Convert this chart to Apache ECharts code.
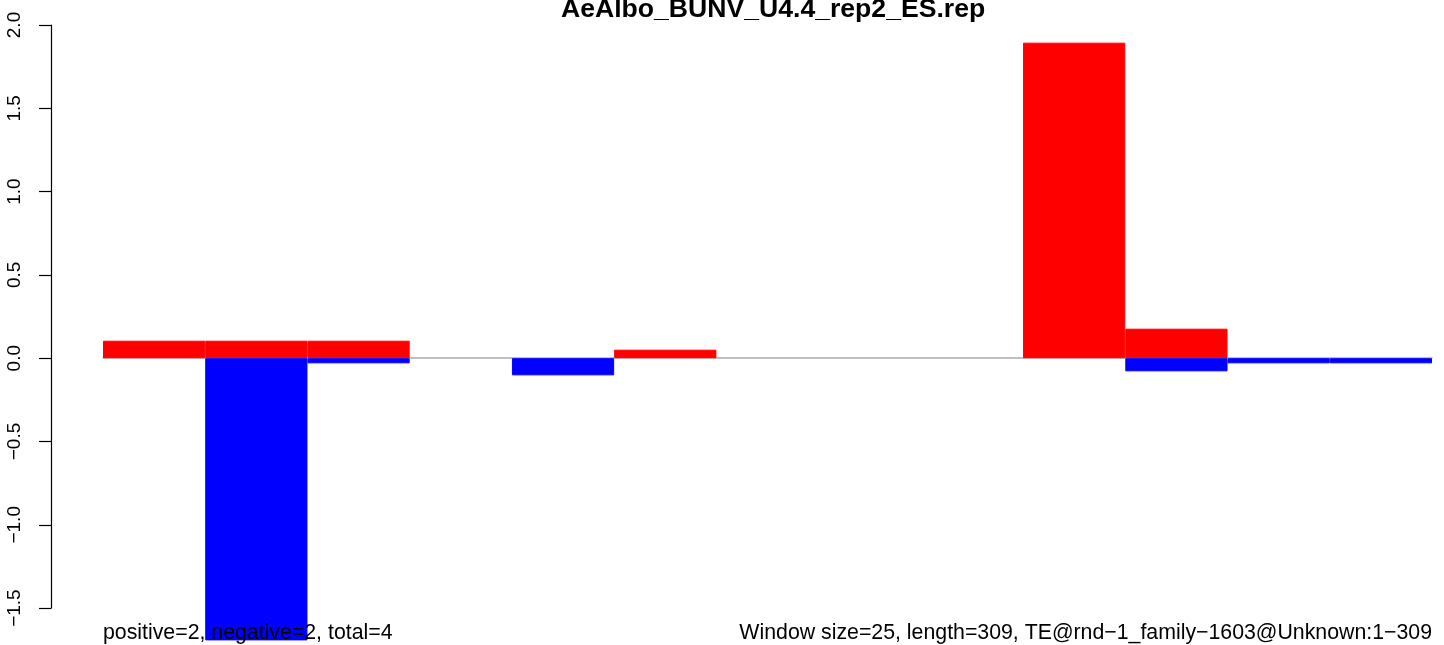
<!DOCTYPE html>
<html>
<head>
<meta charset="utf-8">
<script src="https://cdn.jsdelivr.net/npm/echarts@6/dist/echarts.min.js"></script>
<style>html,body{margin:0;padding:0;background:#fff}#c{width:1444px;height:645px}</style>
</head>
<body>
<div id="c"></div>
<script>
const titleText = "AeAlbo_BUNV_U4.4_rep2_ES.rep";
const leftNote = "positive=2, negative=2, total=4";
const rightNote = "Window size=25, length=309, TE@rnd\u22121_family\u22121603@Unknown:1\u2212309";
const windows = ["1","2","3","4","5","6","7","8","9","10","11","12","13"];
const positiveValues = [0.105, 0.105, 0.105, null, null, 0.051, null, null, null, 1.894, 0.177, null, null];
const negativeValues = [null, -1.694, -0.031, null, -0.103, null, null, null, null, null, -0.079, -0.031, -0.031];
const yTicks = {min: -1.5, max: 2.0, interval: 0.5};

const FONT = "Liberation Sans, Arial, Helvetica, sans-serif";
const chart = echarts.init(document.getElementById('c'), null, {renderer: 'canvas'});
chart.setOption({
  animation: false,
  backgroundColor: '#ffffff',
  title: {
    text: titleText,
    left: 556, top: -9,
    textStyle: {fontFamily: FONT, fontWeight: 'bold', fontSize: 26.6, color: '#000'}
  },
  graphic: [
    {type: 'text', left: 103, bottom: 1, z: 100, style: {text: leftNote, font: '21.3px ' + FONT, fill: '#000'}},
    {type: 'text', right: 12, bottom: 1, z: 100, style: {text: rightNote, font: '21.3px ' + FONT, fill: '#000'}}
  ],
  grid: [
    {left: 103, right: 12, top: 25, height: 616.4},
    {left: 51, width: 1, top: 25, height: 583.1}
  ],
  xAxis: [
    {type: 'category', gridIndex: 0, data: windows, boundaryGap: true,
     axisLine: {show: true, onZero: true, lineStyle: {color: '#aaaaaa', width: 1.5}},
     axisTick: {show: false}, axisLabel: {show: false}, splitLine: {show: false}},
    {type: 'value', gridIndex: 1, show: false}
  ],
  yAxis: [
    {type: 'value', gridIndex: 0, min: -1.7, max: 2.0, show: false, splitLine: {show: false}},
    {type: 'value', gridIndex: 1, min: yTicks.min, max: yTicks.max, interval: yTicks.interval,
     axisLine: {show: true, lineStyle: {color: '#000', width: 1.2}},
     axisTick: {show: true, length: 12, lineStyle: {color: '#000', width: 1.2}},
     axisLabel: {show: true, rotate: 90, margin: 27, fontSize: 19, fontFamily: FONT, color: '#000',
       formatter: v => (v < 0 ? '\u2212' : '') + Math.abs(v).toFixed(1)},
     splitLine: {show: false}}
  ],
  series: [
    {type: 'bar', xAxisIndex: 0, yAxisIndex: 0, data: positiveValues, barGap: '-100%', barCategoryGap: 0,
     itemStyle: {color: '#ff0000', borderColor: '#ff0000', borderWidth: 1}},
    {type: 'bar', xAxisIndex: 0, yAxisIndex: 0, data: negativeValues, barGap: '-100%', barCategoryGap: 0,
     itemStyle: {color: '#0000ff', borderColor: '#0000ff', borderWidth: 1}}
  ]
});
</script>
</body>
</html>
